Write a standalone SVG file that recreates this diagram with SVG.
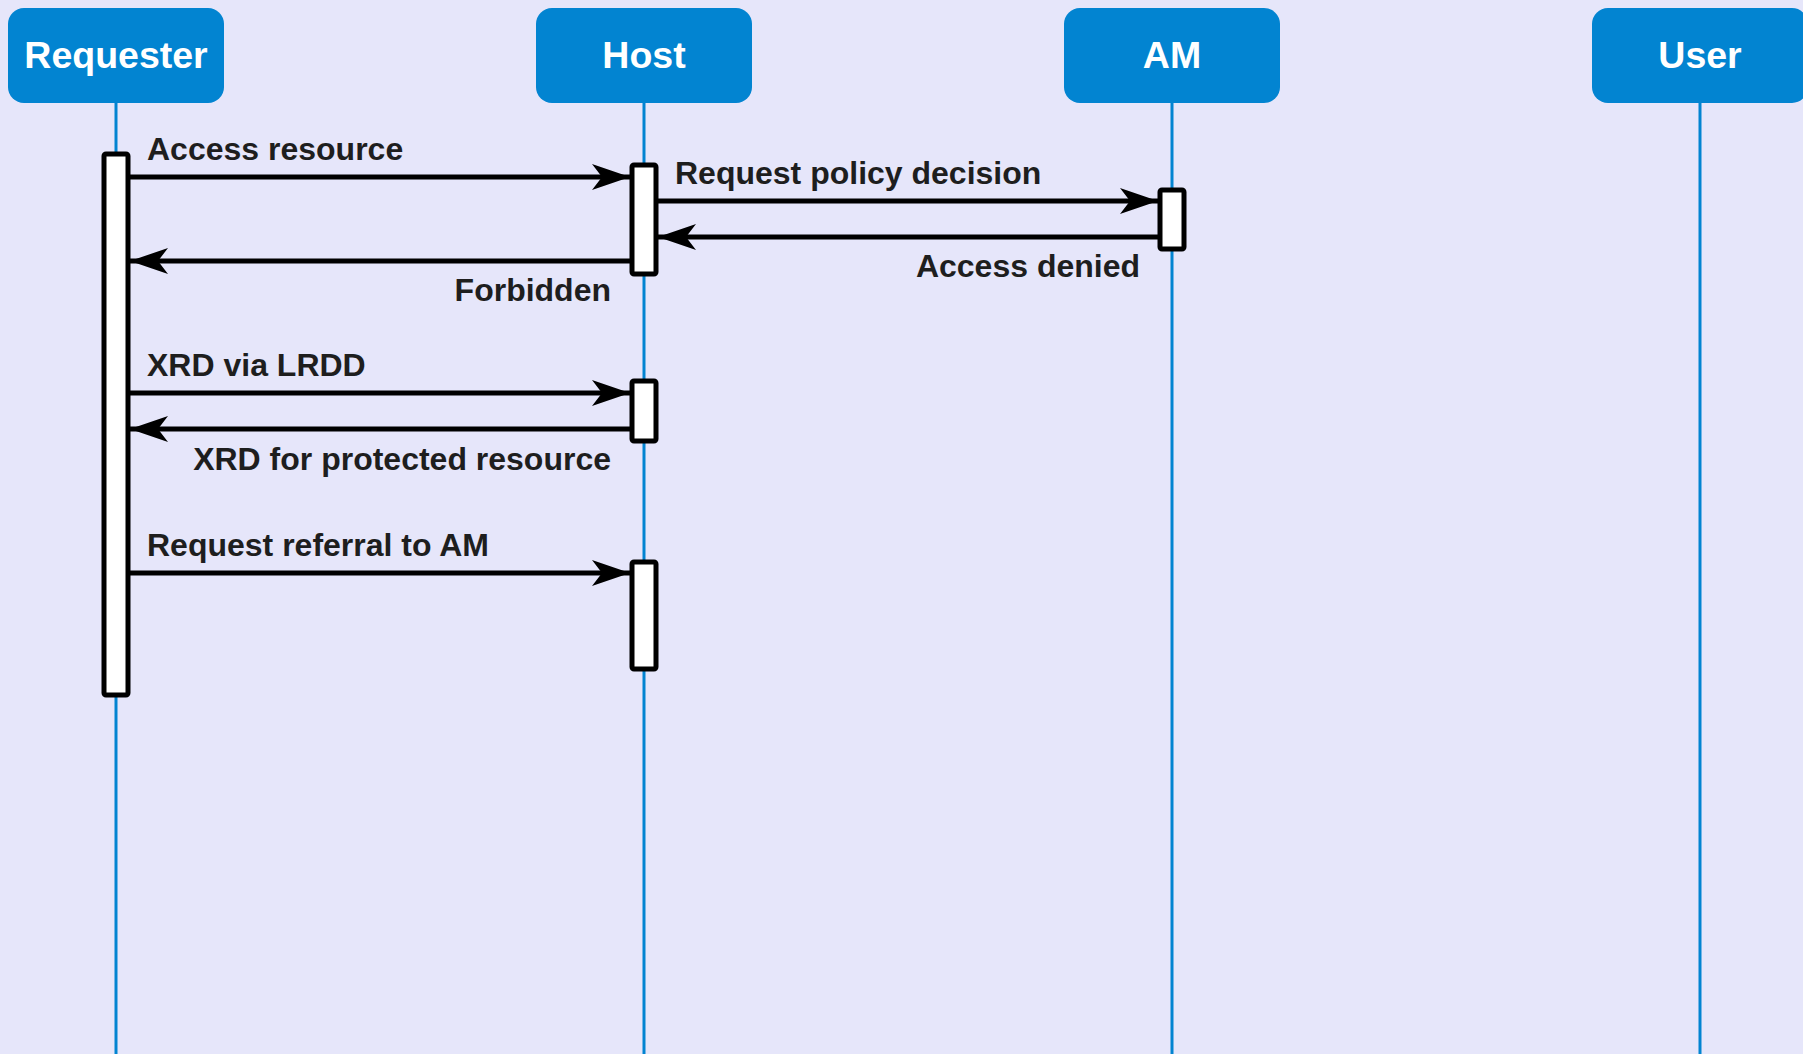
<svg xmlns="http://www.w3.org/2000/svg" width="1803" height="1054" viewBox="0 0 1803 1054">
  <defs>
    <marker id="arrow" markerUnits="userSpaceOnUse" markerWidth="44" markerHeight="34" viewBox="-40 -17 44 34" refX="0" refY="0" orient="auto">
      <path d="M0,0 L-38,-13 L-28,0 L-38,13 Z" fill="#000"/>
    </marker>
    <style>
      .actor rect { fill: #0284d1; }
      .actor text { fill: #ffffff; font-family: "Liberation Sans", Arial, sans-serif; font-weight: bold; font-size: 37.5px; text-anchor: middle; }
      .lifeline { stroke: #0284d1; stroke-width: 3; }
      .bar { fill: #ffffff; stroke: #000; stroke-width: 5; }
      .msg { stroke: #000; stroke-width: 5; fill: none; marker-end: url(#arrow); }
      .label { fill: #1e1e1e; font-family: "Liberation Sans", Arial, sans-serif; font-weight: bold; font-size: 32px; }
      .end { text-anchor: end; }
    </style>
  </defs>

  <rect width="1803" height="1054" fill="#e6e6fa"/>

  <!-- lifelines -->
  <g id="lifelines">
    <line class="lifeline" x1="116" y1="100" x2="116" y2="1054"/>
    <line class="lifeline" x1="644" y1="100" x2="644" y2="1054"/>
    <line class="lifeline" x1="1172" y1="100" x2="1172" y2="1054"/>
    <line class="lifeline" x1="1700" y1="100" x2="1700" y2="1054"/>
  </g>

  <!-- participants -->
  <g id="requester" class="actor">
    <rect x="8" y="8" width="216" height="95" rx="16"/>
    <text x="116" y="68">Requester</text>
  </g>
  <g id="host" class="actor">
    <rect x="536" y="8" width="216" height="95" rx="16"/>
    <text x="644" y="68">Host</text>
  </g>
  <g id="am" class="actor">
    <rect x="1064" y="8" width="216" height="95" rx="16"/>
    <text x="1172" y="68">AM</text>
  </g>
  <g id="user" class="actor">
    <rect x="1592" y="8" width="216" height="95" rx="16"/>
    <text x="1700" y="68">User</text>
  </g>

  <!-- activation bars -->
  <g id="activations">
    <rect class="bar" x="104" y="154" width="24" height="541" rx="2"/>
    <rect class="bar" x="632" y="165" width="24" height="109" rx="2"/>
    <rect class="bar" x="1160" y="190" width="24" height="59" rx="2"/>
    <rect class="bar" x="632" y="381" width="24" height="60" rx="2"/>
    <rect class="bar" x="632" y="562" width="24" height="107" rx="2"/>
  </g>

  <!-- messages -->
  <g id="connectors">
    <line class="msg" x1="128" y1="177" x2="630" y2="177"/>
    <line class="msg" x1="658" y1="201" x2="1158" y2="201"/>
    <line class="msg" x1="1158" y1="237" x2="658" y2="237"/>
    <line class="msg" x1="630" y1="261" x2="130" y2="261"/>
    <line class="msg" x1="128" y1="393" x2="630" y2="393"/>
    <line class="msg" x1="630" y1="429" x2="130" y2="429"/>
    <line class="msg" x1="128" y1="573" x2="630" y2="573"/>
  </g>

  <g id="labels">
    <text class="label" x="147" y="160">Access resource</text>
    <text class="label" x="675" y="184">Request policy decision</text>
    <text class="label end" x="1140" y="277">Access denied</text>
    <text class="label end" x="611" y="301">Forbidden</text>
    <text class="label" x="147" y="376">XRD via LRDD</text>
    <text class="label end" x="611" y="470">XRD for protected resource</text>
    <text class="label" x="147" y="556">Request referral to AM</text>
  </g>
</svg>
